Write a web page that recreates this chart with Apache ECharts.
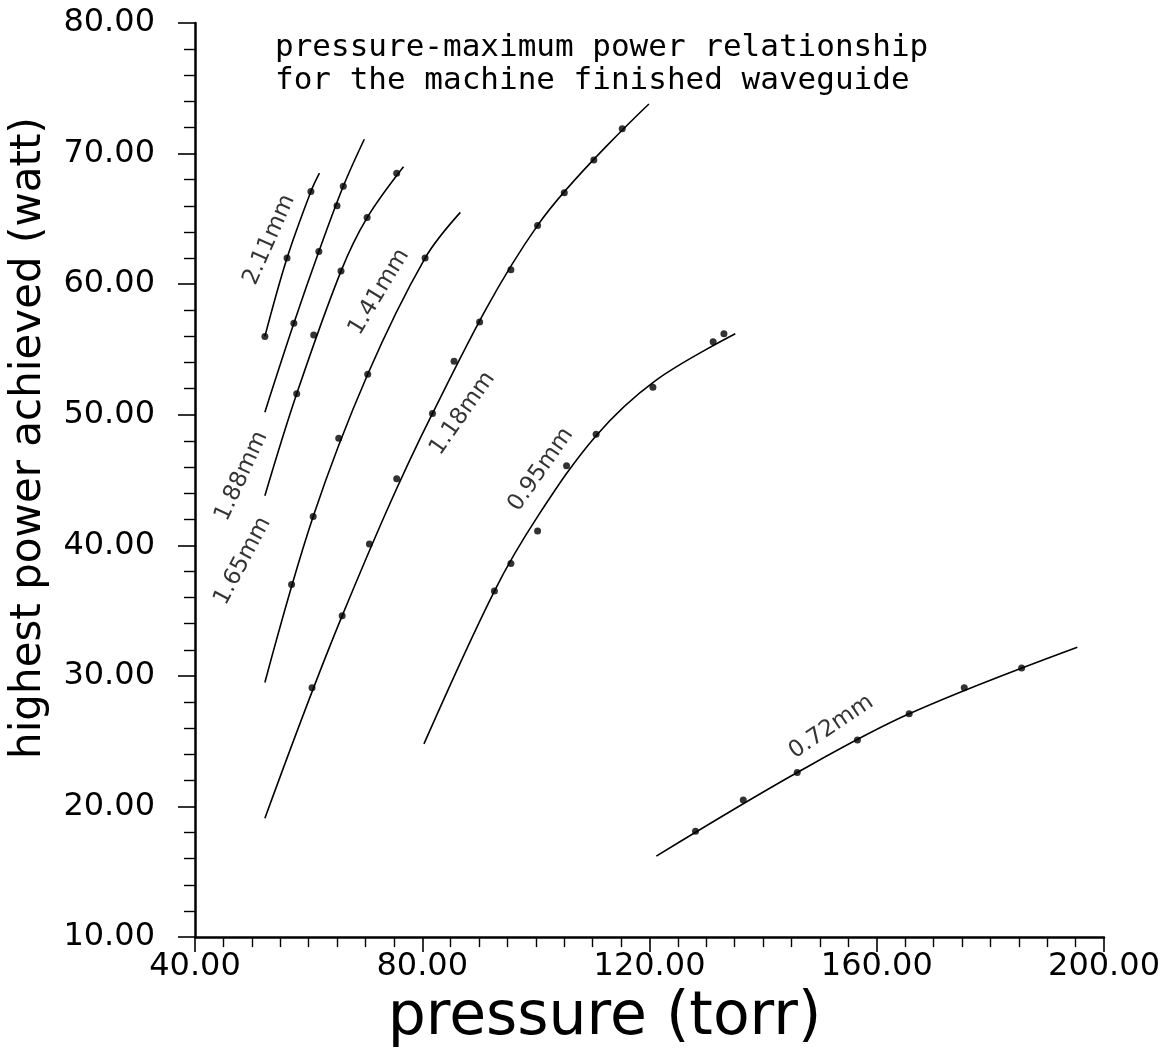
<!DOCTYPE html>
<html>
<head>
<meta charset="utf-8">
<script src="https://cdn.jsdelivr.net/npm/echarts@6/dist/echarts.min.js"></script>
<style>html,body{margin:0;padding:0;background:#fff;}#c{width:1163px;height:1053px;}</style>
</head>
<body>
<div id="c"></div>
<script>
// Measured points (pressure torr, power watt) per gap size
var pts211 = [[52.3,56.0],[56.2,62.0],[60.4,67.1]];
var pts188 = [[57.4,57.0],[61.8,62.5],[65.0,66.0],[66.1,67.5]];
var pts165 = [[57.9,51.6],[60.9,56.1],[65.7,61.0],[70.3,65.1],[75.5,68.5]];
var pts141 = [[57.0,37.0],[60.8,42.2],[65.3,48.2],[70.4,53.1],[80.5,62.0]];
var pts118 = [[60.6,29.1],[65.9,34.6],[70.7,40.1],[75.5,45.1],[81.8,50.1],[85.6,54.1],[90.1,57.1],[95.6,61.1],[100.3,64.5],[105.0,67.0],[110.2,69.5],[115.2,71.9]];
var pts095 = [[92.7,36.5],[95.6,38.6],[100.3,41.1],[105.4,46.1],[110.6,48.5],[120.6,52.1],[131.2,55.6],[133.1,56.2]];
var pts072 = [[128.1,18.1],[136.5,20.5],[146.0,22.6],[156.6,25.1],[165.7,27.1],[175.4,29.1],[185.5,30.6]];

// Fitted curves (start, a few points on the line, end)
var fit211 = [[52.3,56.0],[56.2,62.0],[60.4,67.1],[61.9,68.5]];
var fit188 = [[52.3,50.2],[57.4,57.0],[61.8,62.5],[66.1,67.5],[69.8,71.1]];
var fit165 = [[52.3,43.8],[57.9,51.6],[65.7,61.0],[70.3,65.1],[76.7,69.0]];
var fit141 = [[52.3,29.5],[60.8,42.2],[70.4,53.1],[80.5,62.0],[86.7,65.5]];
var fit118 = [[52.3,19.1],[65.9,34.6],[81.8,50.1],[100.3,64.5],[119.9,73.8]];
var fit095 = [[80.3,24.8],[92.7,36.5],[100.3,42.2],[110.6,48.4],[121.0,52.6],[135.1,56.2]];
var fit072 = [[121.2,16.2],[146.0,22.6],[165.7,27.1],[195.3,32.2]];

// Curve labels: text, anchor (torr, watt), angle
var curveLabels = [
  ['2.11mm', 53.1, 63.4, 66],
  ['1.88mm', 48.2, 45.3, 65],
  ['1.65mm', 48.4, 38.8, 62],
  ['1.41mm', 72.4, 59.4, 59],
  ['1.18mm', 87.1, 50.1, 55],
  ['0.95mm', 100.9, 45.8, 55],
  ['0.72mm', 152.0, 26.1, 34]
];

var titleLines = ['pressure-maximum power relationship', 'for the machine finished waveguide'];
var xTitle = 'pressure (torr)';
var yTitle = 'highest power achieved (watt)';

var FONT = 'DejaVu Sans';
var MONO = 'DejaVu Sans Mono';
var chart = echarts.init(document.getElementById('c'), null, {renderer: 'canvas'});

var fits = [fit211, fit188, fit165, fit141, fit118, fit095, fit072];
var ptsAll = [pts211, pts188, pts165, pts141, pts118, pts095, pts072];
var series = [];
fits.forEach(function (f) {
  series.push({type: 'line', data: f, smooth: 0.35, showSymbol: false, symbol: 'none',
    lineStyle: {color: '#000', width: 1.6}, silent: true, z: 2});
});
ptsAll.forEach(function (p) {
  series.push({type: 'scatter', data: p, symbol: 'circle', symbolSize: 7,
    itemStyle: {color: '#000'}, silent: true, z: 3});
});
series.push({
  type: 'scatter', symbolSize: 0, silent: true, z: 4,
  data: curveLabels.map(function (l) {
    return {value: [l[1], l[2]], name: l[0], label: {rotate: l[3]}};
  }),
  label: {show: true, position: 'inside', formatter: '{b}', color: '#000',
    fontFamily: FONT, fontSize: 23, align: 'center', verticalAlign: 'middle'}
});

chart.setOption({
  animation: false,
  backgroundColor: '#fff',
  title: {
    text: titleLines.join('\n'), left: 270, top: 26,
    textStyle: {fontFamily: MONO, fontSize: 31, fontWeight: 'normal', color: '#000', lineHeight: 33}
  },
  grid: {left: 193, right: 56, top: 23, bottom: 112, containLabel: false},
  xAxis: {
    type: 'value', min: 40, max: 200, interval: 40,
    name: xTitle, nameLocation: 'middle', nameGap: 30,
    nameTextStyle: {fontFamily: FONT, fontSize: 60, color: '#000', padding: [0, 90, 0, 0]},
    axisLine: {show: true, lineStyle: {color: '#000', width: 2.5}},
    axisTick: {show: true, length: 15, lineStyle: {color: '#000', width: 1.6}},
    minorTick: {show: true, splitNumber: 8, length: 10, lineStyle: {color: '#000', width: 1.4}},
    axisLabel: {margin: 14, color: '#000', fontFamily: FONT, fontSize: 32,
      formatter: function (v) { return v.toFixed(2); }},
    splitLine: {show: false}
  },
  yAxis: {
    type: 'value', min: 10, max: 80, interval: 10,
    name: yTitle, nameLocation: 'middle', nameGap: 145,
    nameTextStyle: {fontFamily: FONT, fontSize: 42, color: '#000', padding: [0, 0, 0, 84]},
    axisLine: {show: true, lineStyle: {color: '#000', width: 2.5}},
    axisTick: {show: true, length: 17, lineStyle: {color: '#000', width: 1.6}},
    minorTick: {show: true, splitNumber: 5, length: 11, lineStyle: {color: '#000', width: 1.4}},
    axisLabel: {margin: 40, color: '#000', fontFamily: FONT, fontSize: 32,
      formatter: function (v) { return v.toFixed(2); }},
    splitLine: {show: false}
  },
  series: series
});
</script>
</body>
</html>
